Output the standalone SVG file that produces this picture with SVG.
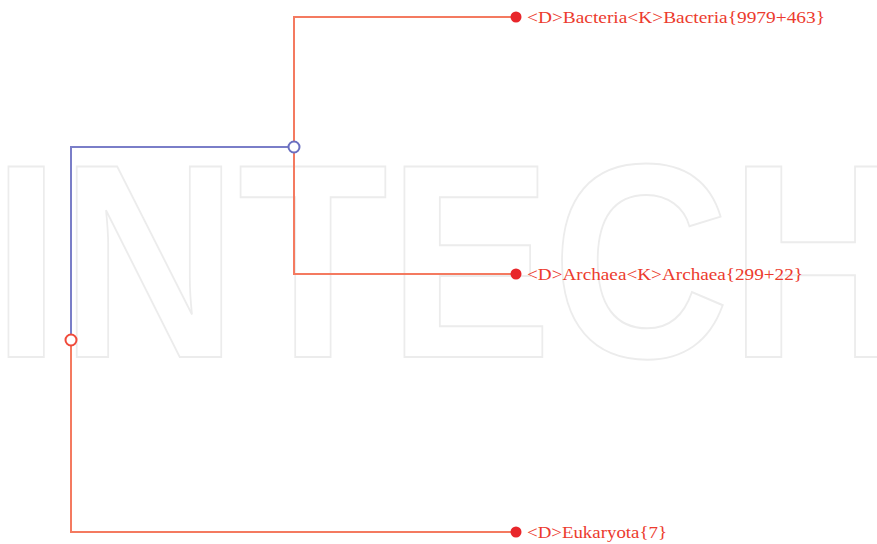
<svg xmlns="http://www.w3.org/2000/svg" width="877" height="544" viewBox="0 0 877 544">
<style>
.wm{font-family:"Liberation Sans",Arial,sans-serif;font-weight:bold;font-size:277px;fill:none;stroke:#ececec;stroke-width:2}
.r{fill:none;stroke:#f47a60;stroke-width:2}
.b{fill:none;stroke:#7a7ec8;stroke-width:2}
.lbl{font-family:"Liberation Serif","Times New Roman",serif;font-size:16px;fill:#ec3b2e}
.leaf{fill:#e8262b;stroke:none}
</style>
<rect width="877" height="544" fill="#ffffff"/>
<text class="wm" x="-8" y="357" textLength="915" lengthAdjust="spacingAndGlyphs">INTECH</text>
<g id="connectors">
<path class="b" d="M71,334 V147 H288"/>
<path class="r" d="M71,346 V532 H516"/>
<path class="r" d="M294,141 V17 H516"/>
<path class="r" d="M294,153 V274 H516"/>
</g>
<g id="root"><circle cx="71" cy="340" r="5.5" fill="#fff" stroke="#f04a3a" stroke-width="2"/></g>
<g id="inner"><circle cx="294" cy="147" r="5.5" fill="#fff" stroke="#6a6fc0" stroke-width="2"/></g>
<g id="bacteria"><circle class="leaf" cx="516" cy="17" r="5.5"/><text class="lbl" x="527" y="23" textLength="298" lengthAdjust="spacingAndGlyphs">&lt;D&gt;Bacteria&lt;K&gt;Bacteria{9979+463}</text></g>
<g id="archaea"><circle class="leaf" cx="516" cy="274" r="5.5"/><text class="lbl" x="527" y="280" textLength="276" lengthAdjust="spacingAndGlyphs">&lt;D&gt;Archaea&lt;K&gt;Archaea{299+22}</text></g>
<g id="eukaryota"><circle class="leaf" cx="516" cy="532" r="5.5"/><text class="lbl" x="527" y="538" textLength="140" lengthAdjust="spacingAndGlyphs">&lt;D&gt;Eukaryota{7}</text></g>
</svg>
